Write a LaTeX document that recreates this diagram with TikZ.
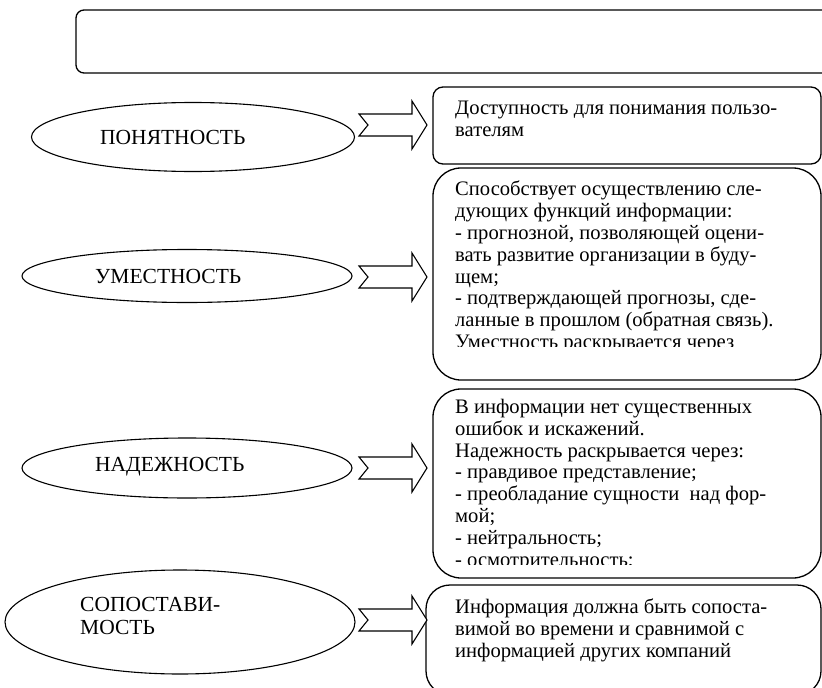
\documentclass[tikz,border=0pt]{standalone}
\usepackage{fontspec}
\setmainfont{Liberation Serif}
\usetikzlibrary{shapes.geometric}
\begin{document}
\begin{tikzpicture}[x=1pt,y=-1pt,
  rbox/.style={draw,line width=1.3pt,rectangle,inner sep=0pt},
  ell/.style={draw,ellipse,line width=1.1pt,inner sep=0pt},
  etext/.style={anchor=west,inner sep=0pt,align=left,font=\fontsize{21.5}{23}\selectfont},
  btext/.style={anchor=north west,inner sep=0pt,align=left,font=\fontsize{20.6}{21.8}\selectfont},
  blockarrow/.pic={\draw[line width=1.1pt,line join=miter,fill=white]
     (-68,-11) -- (-15,-11) -- (-15,-24) -- (0,0) -- (-15,24) -- (-15,11) -- (-68,11) -- (-59,0) -- cycle;}
]
\useasboundingbox (0,0) rectangle (822,688);
% top box
\node[rbox,rounded corners=8pt,minimum width=760,minimum height=63] (top) at (456,41.5) {};
% boxes
\node[rbox,rounded corners=10pt,minimum width=388,minimum height=77] (b1) at (627,125.5) {};
\node[rbox,rounded corners=28pt,minimum width=388,minimum height=212] (b2) at (627,274) {};
\node[rbox,rounded corners=28pt,minimum width=388,minimum height=189] (b3) at (627,483.5) {};
\node[rbox,rounded corners=24pt,minimum width=395,minimum height=110] (b4) at (623.5,640) {};
% ellipses
\node[ell,minimum width=323,minimum height=69] (e1) at (193,137) {};
\node[ell,minimum width=330,minimum height=53] (e2) at (187,276) {};
\node[ell,minimum width=330,minimum height=60] (e3) at (187,468) {};
\node[ell,minimum width=350,minimum height=104] (e4) at (180,622) {};
% ellipse texts
\node[etext] (t1) at (100,137) {ПОНЯТНОСТЬ};
\node[etext] (t2) at (95,276) {УМЕСТНОСТЬ};
\node[etext] (t3) at (95,467) {НАДЕЖНОСТЬ};
\node[etext] (t4) at (80,616) {СОПОСТАВИ-\\МОСТЬ};
% arrows
\coordinate (a1) at (427,125);
\coordinate (a2) at (427,277);
\coordinate (a3) at (427,468);
\coordinate (a4) at (427,620);
\pic at (a1) {blockarrow};
\pic at (a2) {blockarrow};
\pic at (a3) {blockarrow};
\pic at (a4) {blockarrow};
% box texts
\node[btext] (x1) at (455,101) {Доступность для понимания пользо-\\вателям};
\begin{scope}
\clip (433,175) rectangle (821,346);
\node[btext] (x2) at (455,181) {Способствует осуществлению сле-\\дующих функций информации:\\- прогнозной, позволяющей оцени-\\вать развитие организации в буду-\\щем;\\- подтверждающей прогнозы, сде-\\ланные в прошлом (обратная связь).\\Уместность раскрывается через};
\end{scope}
\begin{scope}
\clip (433,395) rectangle (821,564);
\node[btext] (x3) at (455,399) {В информации нет существенных\\ошибок и искажений.\\Надежность раскрывается через:\\- правдивое представление;\\- преобладание сущности \ над фор-\\мой;\\- нейтральность;\\- осмотрительность;};
\end{scope}
\node[btext] (x4) at (455,599) {Информация должна быть сопоста-\\вимой во времени и сравнимой с\\информацией других компаний};
\end{tikzpicture}
\end{document}
